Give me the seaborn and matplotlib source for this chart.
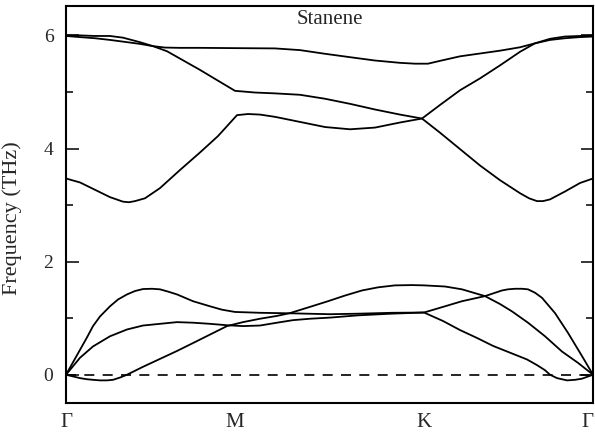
import numpy as np
import pandas as pd
import matplotlib
matplotlib.use("Agg")
from matplotlib import pyplot as plt
from matplotlib.ticker import MultipleLocator
import seaborn as sns

# high-symmetry points along the path (arb. units)
kpoints = [0, 169, 358, 527]
klabels = ["Γ", "M", "K", "Γ"]

# acoustic branches
k_za = [0, 7, 14, 21, 27, 34, 41, 47, 54, 61, 77, 94, 111, 127, 144, 161, 177, 194, 211, 224,
        244, 262, 279, 296, 312, 329, 346, 358, 379, 396, 419, 434, 446, 462, 479, 496, 512, 527]
f_za = [0, -0.03, -0.06, -0.08, -0.09, -0.10, -0.10, -0.09, -0.05, 0.0, 0.14, 0.28, 0.42, 0.56,
        0.71, 0.86, 0.93, 0.99, 1.04, 1.09, 1.20, 1.30, 1.40, 1.49, 1.545, 1.58, 1.585, 1.58,
        1.56, 1.51, 1.39, 1.25, 1.12, 0.92, 0.68, 0.41, 0.21, 0]

k_ta = [0, 14, 27, 44, 61, 77, 94, 111, 127, 144, 161, 177, 194, 211, 227, 244, 264, 292, 326,
        358, 379, 396, 419, 436, 442, 449, 456, 462, 469, 476, 489, 502, 516, 527]
f_ta = [0, 0.30, 0.50, 0.68, 0.80, 0.87, 0.90, 0.93, 0.92, 0.90, 0.875, 0.86, 0.87, 0.92, 0.965,
        0.99, 1.01, 1.05, 1.08, 1.10, 1.21, 1.30, 1.39, 1.49, 1.51, 1.52, 1.52, 1.51, 1.45, 1.36,
        1.09, 0.74, 0.33, 0]

k_la = [0, 7, 14, 21, 27, 34, 44, 52, 61, 69, 77, 86, 94, 102, 111, 127, 144, 156, 169, 194,
        227, 264, 294, 326, 358, 377, 394, 411, 427, 444, 461, 471, 479, 484, 491, 501, 509, 516, 527]
f_la = [0, 0.22, 0.44, 0.66, 0.86, 1.03, 1.21, 1.33, 1.42, 1.48, 1.515, 1.52, 1.51, 1.47, 1.42,
        1.30, 1.21, 1.15, 1.11, 1.095, 1.085, 1.07, 1.08, 1.095, 1.10, 0.95, 0.79, 0.65, 0.51,
        0.39, 0.27, 0.17, 0.08, 0.0, -0.06, -0.10, -0.09, -0.07, 0]

# optical branches (sorted by frequency)
k_o1 = [0, 14, 29, 44, 57, 63, 69, 79, 94, 114, 134, 152, 171, 182, 194, 209, 234, 259, 284, 309,
        334, 356, 374, 394, 414, 434, 454, 463, 471, 477, 484, 499, 514, 527]
f_o1 = [3.47, 3.40, 3.27, 3.14, 3.06, 3.05, 3.07, 3.12, 3.30, 3.62, 3.93, 4.22, 4.59, 4.61, 4.60,
        4.56, 4.47, 4.38, 4.34, 4.37, 4.46, 4.53, 4.28, 3.99, 3.70, 3.44, 3.21, 3.12, 3.07, 3.07,
        3.10, 3.24, 3.39, 3.47]

k_o2 = [0, 14, 29, 44, 57, 74, 87, 101, 117, 134, 151, 169, 189, 209, 234, 259, 284, 309, 334,
        356, 374, 394, 414, 434, 454, 469, 484, 499, 514, 527]
f_o2 = [5.99, 5.97, 5.95, 5.92, 5.89, 5.85, 5.81, 5.72, 5.56, 5.39, 5.21, 5.02, 4.99, 4.975, 4.95,
        4.88, 4.79, 4.69, 4.60, 4.53, 4.77, 5.03, 5.24, 5.47, 5.71, 5.86, 5.92, 5.95, 5.97, 5.98]

k_o3 = [0, 14, 29, 44, 57, 74, 87, 99, 114, 134, 169, 209, 234, 259, 284, 309, 334, 349, 362,
        374, 394, 414, 434, 454, 469, 484, 499, 514, 527]
f_o3 = [6.0, 6.0, 5.99, 5.99, 5.96, 5.88, 5.81, 5.785, 5.78, 5.78, 5.775, 5.77, 5.74, 5.675,
        5.615, 5.556, 5.515, 5.50, 5.50, 5.55, 5.63, 5.68, 5.73, 5.79, 5.86, 5.94, 5.98, 5.99, 6.0]

bands = {"ZA": (k_za, f_za), "TA": (k_ta, f_ta), "LA": (k_la, f_la),
         "O1": (k_o1, f_o1), "O2": (k_o2, f_o2), "O3": (k_o3, f_o3)}
df = pd.concat([pd.DataFrame({"k": k, "freq": f, "band": name})
                for name, (k, f) in bands.items()], ignore_index=True)

sns.set_style("ticks")
plt.rcParams["font.family"] = ["Liberation Serif", "DejaVu Serif"]

fig = plt.figure(figsize=(5.95, 4.36), dpi=100)
ax = fig.add_axes([66 / 595, 1 - 403 / 436, 527 / 595, 397 / 436])

sns.lineplot(data=df, x="k", y="freq", units="band", estimator=None, sort=False,
             color="black", linewidth=1.3, legend=False, ax=ax)
ax.axhline(0, color="black", linewidth=1.2, linestyle=(0, (6, 5)))

ax.set_xlim(kpoints[0], kpoints[-1])
ax.set_ylim(-0.5, 6.52)
ax.set_xticks(kpoints)
ax.set_xticklabels(klabels)
ax.get_xticklabels()[-1].set_horizontalalignment("right")
ax.set_yticks([0, 2, 4, 6])
ax.yaxis.set_minor_locator(MultipleLocator(1))
ax.tick_params(axis="x", length=0, pad=7, labelsize=15)
ax.tick_params(axis="y", which="both", direction="in", left=True, right=True,
               width=1.3, labelsize=14, pad=9)
ax.tick_params(axis="y", which="major", length=9)
ax.tick_params(axis="y", which="minor", length=5)
ax.set_xlabel("")
ax.set_ylabel("Frequency (THz)", fontsize=16)
ax.yaxis.set_label_coords(-0.083, 0.466)
for sp in ax.spines.values():
    sp.set_linewidth(1.5)
    sp.set_color("black")

ax.text(0.5, 0.99, "Stanene", transform=ax.transAxes, ha="center", va="top", fontsize=15)

fig.savefig("out.png", dpi=100)
